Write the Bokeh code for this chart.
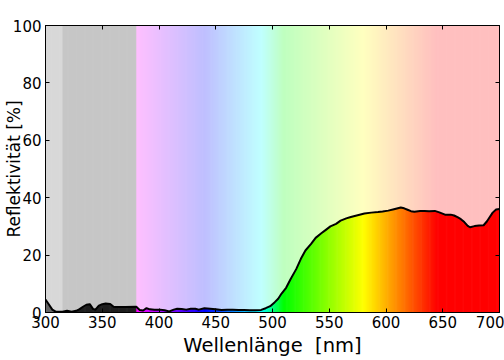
import numpy as np
from bokeh.plotting import figure
from bokeh.models import Range1d, LinearAxis, FixedTicker
from bokeh.embed import file_html
from bokeh.resources import INLINE

# ---- data ----
wavelength = [300, 303, 306, 309, 315, 319, 323, 327, 330, 333, 336, 339, 342, 344,
              347, 350, 353, 357, 360, 362, 370, 380, 383, 386, 389, 392, 396, 401,
              405, 409, 413, 416, 420, 424, 428, 432, 435, 440, 445, 450, 455, 460,
              465, 470, 475, 480, 485, 490, 494, 498, 502, 505, 508, 512, 516, 521,
              525, 529, 534, 538, 543, 547, 551, 556, 560, 565, 569, 575, 581, 587,
              593, 597, 602, 607, 613, 616, 619, 622, 625, 630, 634, 638, 643, 647,
              652, 657, 660, 663, 666, 669, 672, 674, 678, 682, 686, 689, 691, 694,
              697, 700]
reflectance = [4.5, 2.8, 1.0, 0.3, 0.3, 0.6, 0.3, 0.6, 1.2, 2.0, 2.7, 2.9, 1.2, 1.0,
               2.4, 2.9, 3.1, 3.0, 2.0, 1.9, 1.9, 2.0, 0.9, 0.7, 1.5, 1.1, 1.0, 1.0,
               0.8, 0.4, 1.0, 1.3, 1.2, 1.0, 1.3, 1.3, 1.0, 1.5, 1.3, 1.1, 0.9, 1.0,
               1.0, 0.9, 0.9, 0.8, 0.8, 0.9, 1.5, 2.2, 3.6, 4.8, 6.6, 8.6, 11.7, 15.2,
               18.7, 21.6, 23.9, 26.0, 27.6, 28.8, 30.0, 30.9, 32.0, 32.8, 33.3, 33.9, 34.5, 34.8,
               35.0, 35.2, 35.5, 36.0, 36.6, 36.3, 35.8, 35.3, 35.1, 35.4, 35.4, 35.3, 35.4, 34.9,
               34.1, 34.1, 33.8, 33.2, 32.5, 31.5, 30.2, 29.7, 30.1, 30.3, 30.4, 31.8, 33.0, 34.8,
               35.9, 36.1]
x_ticks = [300, 350, 400, 450, 500, 550, 600, 650, 700]
y_ticks = [0, 20, 40, 60, 80, 100]
x_label = "Wellenlänge \u00a0[nm]"
y_label = "Reflektivität [%]"
uv_limits = [300, 315, 380]
x_min, x_max = 300, 700
y_min, y_max = 0, 100

FONT = "DejaVu Sans"


def spectral_color(wl):
    if wl < uv_limits[1]:
        return "#646464"
    if wl < uv_limits[2]:
        return "#1e1e1e"
    if wl < 440:
        r, g, b = (440 - wl) / 60.0, 0.0, 1.0
    elif wl < 490:
        r, g, b = 0.0, (wl - 440) / 50.0, 1.0
    elif wl < 510:
        r, g, b = 0.0, 1.0, (510 - wl) / 20.0
    elif wl < 580:
        r, g, b = (wl - 510) / 70.0, 1.0, 0.0
    elif wl < 645:
        r, g, b = 1.0, (645 - wl) / 65.0, 0.0
    else:
        r, g, b = 1.0, 0.0, 0.0
    return "#%02x%02x%02x" % (int(round(r * 255)), int(round(g * 255)), int(round(b * 255)))


p = figure(width=504, height=360,
           x_range=Range1d(x_min, x_max), y_range=Range1d(y_min, y_max),
           output_backend="svg", toolbar_location=None,
           min_border_left=45, min_border_right=5, min_border_top=25, min_border_bottom=48)
p.background_fill_color = "white"
p.border_fill_color = "white"
p.outline_line_color = "black"
p.outline_line_width = 1
p.xgrid.visible = False
p.ygrid.visible = False

# spectral background, full colour
band_left = np.arange(x_min, x_max, 1.0)
band_colors = [spectral_color(w + 0.5) for w in band_left]
p.quad(left=band_left, right=np.minimum(band_left + 1.6, x_max), bottom=y_min, top=y_max,
       fill_color=band_colors, line_color=None)

# pale veil above the curve
veil_x = list(wavelength) + [x_max, x_min]
veil_y = list(reflectance) + [y_max, y_max]
p.patch(veil_x, veil_y, fill_color="white", fill_alpha=0.75, line_color=None)

# curve
p.line(wavelength, reflectance, line_color="black", line_width=2, line_join="round")

# axes styling
for ax, ticks in ((p.xaxis[0], x_ticks), (p.yaxis[0], y_ticks)):
    ax.ticker = FixedTicker(ticks=ticks)
    ax.major_tick_in = 4
    ax.major_tick_out = 0
    ax.minor_tick_in = 0
    ax.minor_tick_out = 0
    ax.major_tick_line_color = "black"
    ax.axis_line_color = "black"
    ax.major_label_text_font = FONT
    ax.major_label_text_font_size = "15px"
    ax.major_label_text_color = "black"
    ax.axis_label_text_font = FONT
    ax.axis_label_text_font_style = "normal"
    ax.axis_label_text_color = "black"

p.xaxis.major_label_standoff = 3
p.yaxis.major_label_standoff = 4
p.xaxis.axis_label = x_label
p.xaxis.axis_label_text_font_size = "19.5px"
p.xaxis.axis_label_standoff = 3
p.yaxis.axis_label = y_label
p.yaxis.axis_label_text_font_size = "17px"
p.yaxis.axis_label_standoff = -14

for loc, ticks in (("above", x_ticks), ("right", y_ticks)):
    ax = LinearAxis(ticker=FixedTicker(ticks=ticks), major_tick_in=4, major_tick_out=0,
                    minor_tick_in=0, minor_tick_out=0, major_label_standoff=0,
                    major_label_text_font_size="1px", major_label_text_color=None,
                    axis_line_color="black", major_tick_line_color="black")
    p.add_layout(ax, loc)

open("out.html", "w").write(file_html(p, INLINE))
